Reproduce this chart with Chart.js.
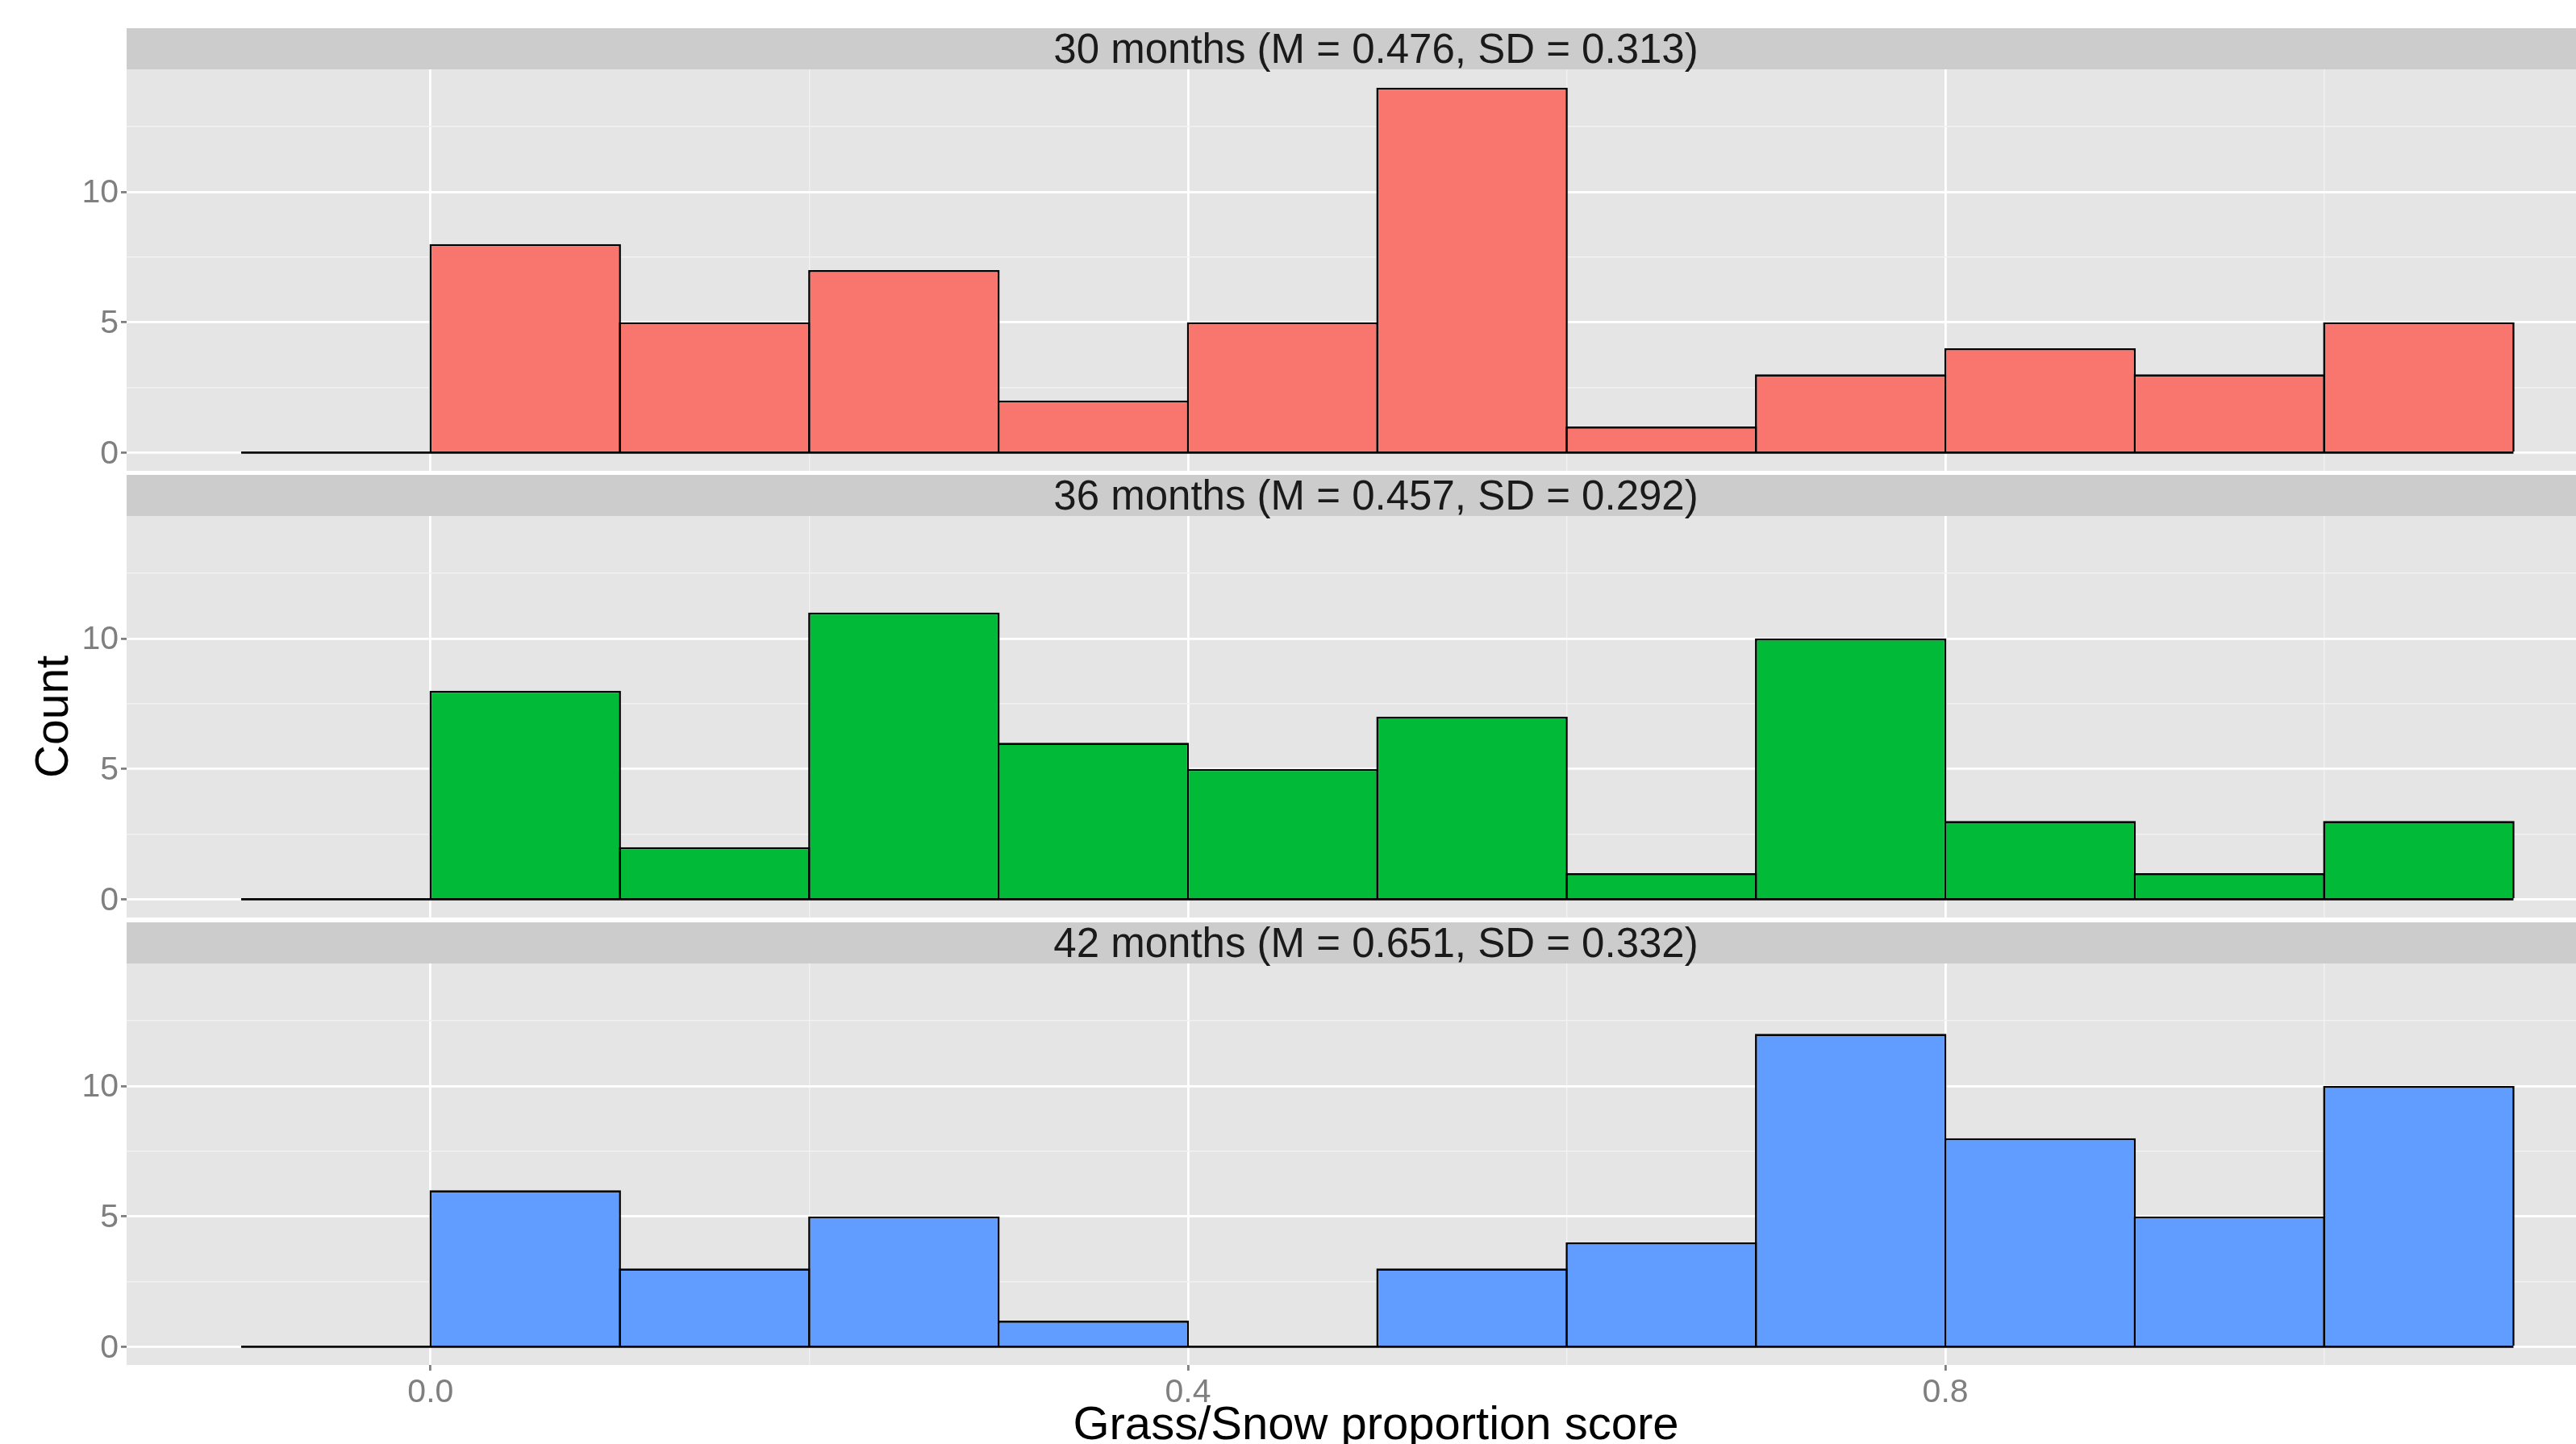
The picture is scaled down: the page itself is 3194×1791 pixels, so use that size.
<!DOCTYPE html>
<html>
<head>
<meta charset="utf-8">
<title>Grass/Snow proportion score</title>
<script src="https://cdn.jsdelivr.net/npm/chart.js@4.4.1/dist/chart.umd.min.js"></script>
<style>
    html, body { margin: 0; padding: 0; background: #ffffff; overflow: hidden; width: 3194px; height: 1791px; }
    .panel { position: absolute; left: 0; width: 3255px; }
    #p30 { top: 35px; height: 549px; }
    #p36 { top: 589px; height: 549px; }
    #p42 { top: 1144px; height: 647px; }
</style>
</head>
<body>
<div class="panel" id="p30"><canvas id="chart30"></canvas></div>
<div class="panel" id="p36"><canvas id="chart36"></canvas></div>
<div class="panel" id="p42"><canvas id="chart42"></canvas></div>
<script>
    // histogram bins (width 0.1) and counts per age group
    const binEdges = [-0.1, 0.0, 0.1, 0.2, 0.3, 0.4, 0.5, 0.6, 0.7, 0.8, 0.9, 1.0, 1.1];
    const counts30 = [0, 8, 5, 7, 2, 5, 14, 1, 3, 4, 3, 5];
    const counts36 = [0, 8, 2, 11, 6, 5, 7, 1, 10, 3, 1, 3];
    const counts42 = [0, 6, 3, 5, 1, 0, 3, 4, 12, 8, 5, 10];
    const panelTitles = [
        "30 months (M = 0.476, SD = 0.313)",
        "36 months (M = 0.457, SD = 0.292)",
        "42 months (M = 0.651, SD = 0.332)"
    ];
    const panelColors = ["#F8766D", "#00BA38", "#619CFF"];

    const xTicks = [0.0, 0.4, 0.8];
    const xTickLabels = ["0.0", "0.4", "0.8"];
    const xMinorTicks = [0.2, 0.6, 1.0];
    const yTicks = [0, 5, 10];
    const yTickLabels = ["0", "5", "10"];
    const yMinorTicks = [2.5, 7.5, 12.5];

    const xTitle = "Grass/Snow proportion score";
    const yTitle = "Count";

    Chart.defaults.font.family = "'Liberation Sans', Arial, sans-serif";

    function findTick(v, list) {
        return list.findIndex(t => Math.abs(t - v) < 1e-9);
    }

    // grey panel background and facet strip behind the title
    const panelBackground = {
        id: "panelBackground",
        beforeDraw(chart) {
            const { ctx, chartArea } = chart;
            ctx.save();
            ctx.fillStyle = "#E5E5E5";
            ctx.fillRect(chartArea.left, chartArea.top, chartArea.width, chartArea.height);
            const t = chart.titleBlock;
            if (t) {
                ctx.fillStyle = "#CCCCCC";
                ctx.fillRect(chartArea.left, t.top, chartArea.width, t.height);
            }
            ctx.restore();
        }
    };

    function makeChart(canvasId, title, counts, color, isBottom, showYTitle) {
        const ctx = document.getElementById(canvasId).getContext("2d");
        const bars = counts.map((c, i) => ({ x: (binEdges[i] + binEdges[i + 1]) / 2, y: c }));
        const baseline = [
            { x: binEdges[0], y: 0 },
            { x: binEdges[binEdges.length - 1], y: 0 }
        ];

        return new Chart(ctx, {
            type: "bar",
            data: {
                datasets: [
                    {
                        type: "line",
                        data: baseline,
                        borderColor: "#000000",
                        borderWidth: 2.6,
                        pointRadius: 0,
                        fill: false,
                        order: 0
                    },
                    {
                        type: "bar",
                        data: bars,
                        backgroundColor: color,
                        borderColor: "#000000",
                        borderWidth: 2.6,
                        borderSkipped: "start",
                        barPercentage: 1.011,
                        categoryPercentage: 1,
                        order: 1
                    }
                ]
            },
            options: {
                responsive: true,
                maintainAspectRatio: false,
                animation: false,
                events: [],
                layout: { padding: 0 },
                plugins: {
                    legend: { display: false },
                    tooltip: { enabled: false },
                    title: {
                        display: true,
                        text: title,
                        position: "top",
                        fullSize: false,
                        align: "center",
                        color: "#1A1A1A",
                        font: { size: 51, weight: "normal", lineHeight: 1 },
                        padding: { top: 3, bottom: -3 }
                    }
                },
                scales: {
                    x: {
                        type: "linear",
                        min: -0.1605,
                        max: 1.159,
                        bounds: "data",
                        offset: false,
                        afterBuildTicks: (s) => {
                            s.ticks = xTicks.concat(xMinorTicks).sort((a, b) => a - b).map(v => ({ value: v }));
                        },
                        afterFit: (s) => {
                            s.height = isBottom ? 98 : 0;
                            s.paddingLeft = 0;
                            s.paddingRight = 0;
                        },
                        border: { display: false },
                        grid: {
                            offset: false,
                            drawTicks: isBottom,
                            tickLength: 7,
                            color: (c) => findTick(c.tick.value, xTicks) >= 0 ? "#FFFFFF" : "#F2F2F2",
                            lineWidth: (c) => findTick(c.tick.value, xTicks) >= 0 ? 2.8 : 1.4,
                            tickColor: (c) => findTick(c.tick.value, xTicks) >= 0 ? "#7F7F7F" : "rgba(0,0,0,0)",
                            tickWidth: 2.8
                        },
                        ticks: {
                            display: isBottom,
                            autoSkip: false,
                            maxRotation: 0,
                            padding: 3,
                            color: "#7F7F7F",
                            font: { size: 41, lineHeight: 1.2 },
                            callback: (v) => {
                                const i = findTick(v, xTicks);
                                return i >= 0 ? xTickLabels[i] : "";
                            }
                        },
                        title: {
                            display: isBottom,
                            text: xTitle,
                            color: "#000000",
                            font: { size: 58, lineHeight: 1 },
                            padding: { top: 0, bottom: -7 }
                        }
                    },
                    y: {
                        type: "linear",
                        min: -0.7,
                        max: 14.7,
                        bounds: "data",
                        afterBuildTicks: (s) => {
                            s.ticks = yTicks.concat(yMinorTicks).sort((a, b) => a - b).map(v => ({ value: v }));
                        },
                        afterFit: (s) => {
                            s.width = 157;
                            s.paddingTop = 0;
                            s.paddingBottom = 0;
                        },
                        border: { display: false },
                        grid: {
                            tickLength: 7,
                            color: (c) => findTick(c.tick.value, yTicks) >= 0 ? "#FFFFFF" : "#F2F2F2",
                            lineWidth: (c) => findTick(c.tick.value, yTicks) >= 0 ? 2.8 : 1.4,
                            tickColor: (c) => findTick(c.tick.value, yTicks) >= 0 ? "#7F7F7F" : "rgba(0,0,0,0)",
                            tickWidth: 2.8
                        },
                        ticks: {
                            autoSkip: false,
                            padding: 3,
                            labelOffset: 2,
                            color: "#7F7F7F",
                            font: { size: 41, lineHeight: 1.2 },
                            callback: (v) => {
                                const i = findTick(v, yTicks);
                                return i >= 0 ? yTickLabels[i] : "";
                            }
                        },
                        title: {
                            display: showYTitle,
                            text: yTitle,
                            color: "#000000",
                            font: { size: 57 },
                            padding: { top: 34, bottom: 0 }
                        }
                    }
                }
            },
            plugins: [panelBackground]
        });
    }

    document.addEventListener("DOMContentLoaded", function () {
        window.chart30 = makeChart("chart30", panelTitles[0], counts30, panelColors[0], false, false);
        window.chart36 = makeChart("chart36", panelTitles[1], counts36, panelColors[1], false, true);
        window.chart42 = makeChart("chart42", panelTitles[2], counts42, panelColors[2], true, false);
    });
</script>
</body>
</html>
